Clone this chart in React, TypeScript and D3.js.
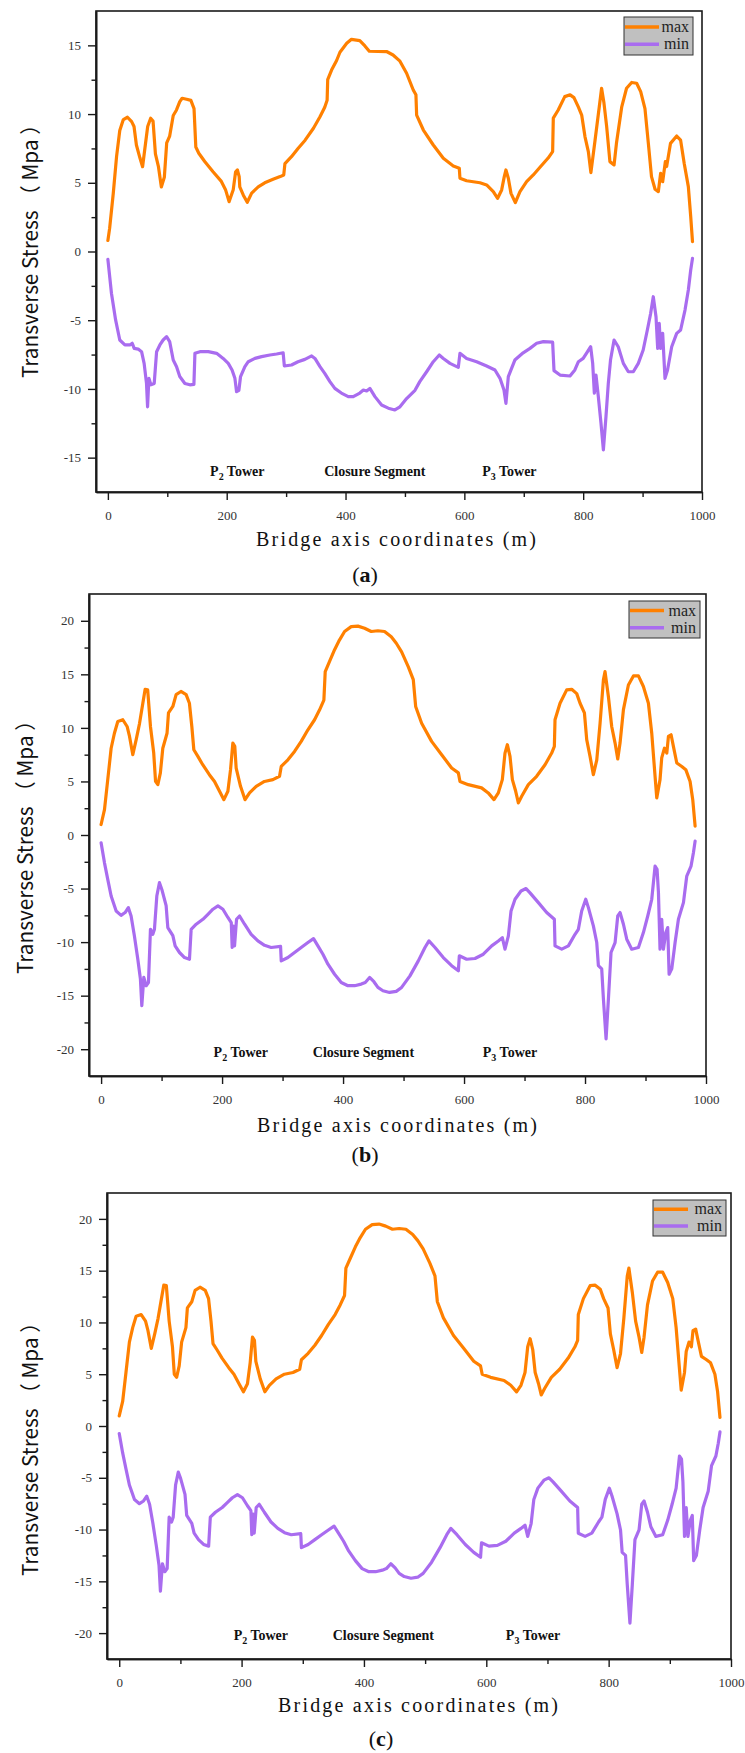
import React, { useEffect, useRef } from 'react';
import * as d3 from 'd3';

type Pt = [number, number];

// panel (a): max / min transverse stress along the bridge axis
const maxA: Pt[] = [
  [0, 0.8], [3, 1.7], [9, 4.2], [14.6, 6.9], [20, 8.8], [26, 9.6], [33, 9.77], [40, 9.45], [44, 9.1],
  [48, 7.75], [54, 6.8], [58.4, 6.17], [62, 7.4], [67, 9.1], [72, 9.7], [76, 9.5], [80, 7.1], [85, 6.2],
  [90, 4.7], [95, 5.4], [99, 7.9], [104, 8.4], [110, 9.9], [115.5, 10.3], [121, 10.9], [125, 11.15],
  [132.5, 11.08], [139.7, 11.0], [145, 10.4], [148, 7.6], [153, 7.15], [163, 6.55], [177, 5.8], [191, 5.1],
  [198, 4.5], [204, 3.63], [211, 4.5], [215, 5.8], [218, 5.93], [221, 5.45], [222, 4.7], [228, 4.1],
  [234.6, 3.58], [242, 4.25], [253, 4.7], [264, 5.0], [278, 5.25], [290, 5.45], [296, 5.57], [298, 6.4],
  [309, 6.9], [320, 7.5], [332, 8.1], [346, 8.97], [357, 9.8], [365, 10.5], [369, 11.0], [370, 12.5],
  [376.5, 13.2], [385, 13.9], [390.6, 14.5], [402, 15.15], [410, 15.44], [424, 15.35], [432.6, 14.96],
  [440, 14.57], [469, 14.55], [480, 14.3], [491.6, 13.85], [502.8, 12.97], [514, 11.75], [518.5, 11.4],
  [519.7, 9.93], [531, 8.84], [547.7, 7.75], [564.6, 6.78], [581.4, 6.22], [591.5, 6.05], [592.6, 5.33],
  [603.8, 5.15], [626.3, 5.0], [637.5, 4.84], [648.7, 4.36], [656, 3.87], [662.8, 4.48], [667.2, 5.45],
  [670, 5.93], [674, 5.33], [678.5, 4.23], [685.8, 3.56], [693.6, 4.36], [704.8, 5.08], [716, 5.57],
  [727.3, 6.13], [741, 6.8], [748.6, 7.27], [749.7, 9.7], [758, 10.3], [769, 11.27], [778, 11.4],
  [784.5, 11.2], [792, 10.5], [797.5, 9.93], [803, 8.36], [808.7, 7.27], [813, 5.74], [820, 8.1],
  [827, 10.5], [831, 11.88], [835, 10.8], [839.5, 9.1], [845, 6.54], [852, 6.3], [856, 7.87],
  [864.8, 10.5], [873, 11.88], [881.6, 12.3], [890, 12.24], [896.8, 11.63], [904, 10.4], [909.7, 7.87],
  [915, 5.45], [921, 4.53], [926.5, 4.36], [930.4, 5.69], [933.8, 5.08], [938.3, 6.54], [940.5, 6.18],
  [947, 7.87], [957.4, 8.4], [964, 8.1], [970, 6.42], [977, 4.72], [981, 2.54], [984, 0.72],
];

const minA: Pt[] = [
  [0, -0.57], [6, -3.04], [13, -4.98], [20, -6.44], [28.6, -6.8], [37, -6.8], [41, -6.68], [44.3, -7.05],
  [51, -7.1], [56.7, -7.29], [61, -8.14], [65, -9.6], [66.8, -11.3], [69, -9.23], [72.4, -9.7], [78, -9.6],
  [82, -7.29], [87.5, -6.8], [93, -6.44], [98.8, -6.2], [104, -6.56], [110, -7.9], [115.6, -8.38],
  [121, -9.1], [129.6, -9.6], [138, -9.7], [144.8, -9.67], [146.5, -7.41], [155, -7.29], [169, -7.29],
  [183, -7.41], [194, -7.78], [202.6, -8.14], [209, -8.62], [213.8, -9.23], [216.6, -10.2], [220.5, -10.1],
  [223.3, -9.1], [230.6, -8.38], [236.3, -8.02], [247.5, -7.78], [258.7, -7.65], [272.7, -7.53],
  [284, -7.46], [295, -7.37], [297, -8.33], [309, -8.26], [320, -8.02], [331.6, -7.85], [343, -7.6],
  [348.5, -7.78], [357, -8.38], [365, -8.87], [373.7, -9.47], [382, -9.96], [393, -10.3], [404.6, -10.56],
  [413, -10.56], [424, -10.3], [430, -10.08], [435.5, -10.15], [441, -9.96], [449.5, -10.56],
  [460.7, -11.17], [472, -11.4], [483, -11.53], [491.6, -11.3], [502.8, -10.7], [516.9, -10.1],
  [525, -9.47], [536.5, -8.75], [547.7, -8.02], [557.8, -7.53], [564.6, -7.78], [575.8, -8.14],
  [589.8, -8.43], [592.6, -7.41], [603.8, -7.78], [620.7, -8.02], [637.5, -8.33], [651.5, -8.62],
  [660, -9.23], [666.7, -10.08], [670, -11.05], [674, -9.1], [685, -7.9], [699, -7.37], [710.5, -7.05],
  [721.7, -6.68], [733, -6.56], [748.6, -6.6], [750.9, -8.67], [761, -8.99], [777.8, -9.06], [786, -8.62],
  [792, -8.02], [800, -7.78], [806, -7.37], [812.6, -6.93], [816, -8.14], [818.8, -10.3], [821.6, -8.99],
  [825.5, -10.56], [830, -12.5], [834, -14.44], [838.4, -12.0], [842.3, -9.6], [846, -7.9], [852, -6.44],
  [859, -6.93], [867.6, -8.14], [876, -8.75], [884.4, -8.75], [892.8, -8.14], [901, -7.17], [908, -5.71],
  [913.6, -4.5], [918, -3.29], [922.6, -4.75], [925.4, -7.05], [928, -5.23], [930.4, -7.05], [933.8, -5.96],
  [937.7, -9.23], [942, -8.62], [949, -6.93], [957.4, -5.96], [964, -5.71], [971.4, -4.26], [977, -2.8],
  [981, -1.35], [984, -0.5],
];

// panels (b) and (c)
const maxB: Pt[] = [
  [0, 0.98], [5.6, 2.37], [11, 5.17], [16.6, 8.1], [22, 9.5], [27.6, 10.6], [35.9, 10.76], [43, 10.13],
  [47, 9.2], [52.4, 7.5], [58, 8.9], [63.5, 10.4], [69, 12.3], [72.8, 13.6], [77, 13.55], [81.6, 10.13],
  [87, 7.65], [90, 5.0], [93.8, 4.7], [98, 5.8], [102, 8.1], [109, 9.5], [111.4, 11.4], [118.6, 12.0],
  [124, 13.1], [132, 13.4], [140.6, 13.1], [146, 12.3], [150, 10.13], [153.3, 7.96], [160, 7.34],
  [168, 6.56], [179, 5.63], [187.5, 5.0], [195.8, 4.08], [203, 3.3], [209.6, 4.08], [214, 6.1],
  [217.8, 8.58], [221, 8.27], [223.3, 6.25], [230.5, 4.55], [238, 3.3], [245.4, 3.93], [256.4, 4.55],
  [270, 5.0], [284, 5.17], [295, 5.48], [297.8, 6.4], [308.8, 7.02], [319.8, 7.8], [330.8, 8.74],
  [341.9, 9.82], [352.9, 10.76], [361.2, 11.69], [368.3, 12.6], [370.5, 15.25], [377.7, 16.2], [386, 17.3],
  [394, 18.2], [402.5, 19.0], [413.5, 19.45], [424.6, 19.5], [435.6, 19.3], [446.6, 19.0], [457.6, 19.07],
  [468.6, 19.0], [479.7, 18.5], [488, 17.9], [496.8, 17.1], [507.9, 15.7], [516.1, 14.5], [520, 12.0],
  [529.9, 10.44], [546.4, 8.74], [563, 7.5], [579.5, 6.25], [590.6, 5.8], [593.3, 5.0], [607, 4.7],
  [629, 4.4], [640, 3.93], [649.5, 3.3], [656.7, 3.93], [663.3, 5.17], [667.7, 7.65], [671.6, 8.43],
  [676, 7.34], [679.9, 5.17], [685.4, 4.08], [689.8, 3.0], [695.3, 3.62], [706.3, 4.7], [720, 5.48],
  [733.9, 6.56], [744.9, 7.65], [749.3, 8.27], [750.4, 10.76], [758.7, 12.3], [769.7, 13.55], [778, 13.6],
  [786.3, 13.2], [791.8, 12.3], [799, 11.4], [802.8, 8.9], [808.3, 7.34], [813.8, 5.63], [819.4, 7.0],
  [824.9, 10.45], [830.4, 14.48], [833.1, 15.25], [838.7, 12.9], [844.1, 10.13], [849.7, 8.58],
  [854.1, 7.1], [857.9, 8.58], [863.5, 11.7], [871.7, 14.0], [880, 14.85], [888.3, 14.85], [896.5, 13.86],
  [904.8, 12.3], [910.3, 9.5], [915.8, 5.48], [918.6, 3.46], [924, 5.17], [926.8, 7.2], [931.3, 8.1],
  [935.2, 7.65], [937.9, 9.2], [942.3, 9.36], [946.1, 8.27], [951.7, 6.72], [960, 6.4], [966.6, 6.1],
  [973.7, 5.0], [978.1, 3.3], [982, 0.82],
];

const minB: Pt[] = [
  [0, -0.73], [5.6, -2.6], [11, -4.14], [16.6, -5.7], [24.9, -7.1], [33, -7.5], [39.7, -7.24], [45, -6.78],
  [49.6, -7.56], [55, -9.4], [60.7, -11.6], [65, -13.45], [67.3, -15.94], [70.6, -13.3], [74.5, -14.07],
  [78.3, -13.77], [81.6, -8.8], [85.5, -9.27], [88.2, -8.8], [92.1, -5.7], [96.5, -4.45], [100.4, -5.08],
  [107.5, -6.6], [110.3, -8.64], [118.6, -9.4], [122.4, -10.35], [129.6, -10.97], [137.9, -11.44],
  [146.1, -11.6], [148.9, -8.8], [157.2, -8.33], [168.3, -7.87], [176.6, -7.4], [184.9, -6.93],
  [193.2, -6.62], [201.4, -6.93], [209.6, -7.7], [215.2, -8.18], [216.7, -10.5], [219, -8.5],
  [220.6, -10.35], [223.9, -7.87], [228.9, -7.56], [237.2, -8.33], [248.1, -9.27], [259.2, -9.89],
  [270.2, -10.3], [281.2, -10.5], [296.7, -10.4], [297.8, -11.75], [308.8, -11.44], [319.8, -10.97],
  [330.8, -10.5], [341.9, -10.04], [351.2, -9.67], [358.4, -10.35], [366.7, -11.13], [375, -12.06],
  [386, -13.0], [397, -13.77], [408, -14.07], [419, -14.07], [430.1, -13.92], [436.7, -13.77],
  [443.9, -13.3], [451, -13.7], [457.6, -14.23], [465.9, -14.54], [476.9, -14.7], [487.9, -14.6],
  [496.8, -14.23], [510.6, -13.15], [524.4, -11.75], [535.4, -10.5], [542, -9.89], [552, -10.5],
  [565.7, -11.44], [579.5, -12.2], [590.6, -12.68], [592.2, -11.28], [604.3, -11.6], [618.1, -11.53],
  [631.9, -11.13], [645.7, -10.35], [656.7, -9.89], [663.3, -9.58], [667.7, -10.66], [673.3, -9.42],
  [677.7, -7.09], [684.3, -6.0], [694.2, -5.23], [702.5, -5.0], [709.1, -5.4], [722.9, -6.31],
  [736.6, -7.24], [749.3, -7.87], [750.4, -10.35], [761.5, -10.66], [772.5, -10.35], [783.5, -9.27],
  [789, -8.8], [794.5, -7.09], [801.2, -6.0], [805.6, -6.78], [813.8, -8.49], [819.4, -10.04],
  [822.1, -12.2], [827.6, -12.5], [830.4, -15.3], [834.8, -19.03], [838.7, -15.3], [843, -10.97],
  [849.7, -10.04], [854.1, -7.56], [857.9, -7.24], [863.5, -8.33], [869, -9.73], [877.2, -10.66],
  [888.3, -10.5], [896.5, -9.11], [903.7, -7.56], [910.3, -6.0], [915.8, -2.9], [919.1, -3.2],
  [921.4, -5.39], [924, -10.66], [926.8, -7.87], [929.6, -10.66], [933.5, -9.11], [936.7, -8.64],
  [939, -13.0], [943.4, -12.5], [948.9, -10.04], [954.4, -7.87], [962.7, -6.31], [968.2, -3.83],
  [975.3, -2.9], [979.2, -1.66], [982, -0.57],
];

const seriesNames = ['max', 'min'];
const seriesColors = ['#ff8000', '#a96cef'];
const xMajorTicks = [0, 200, 400, 600, 800, 1000];
const xMinorTicks = [100, 300, 500, 700, 900];
const notePrefixes = ['P', '', 'P'];
const noteSubs = ['2', '', '3'];
const noteTexts = [' Tower', 'Closure Segment', ' Tower'];

const panels = [
  { letter: 'a', max: maxA, min: minA, yMax: 17.5, box: [96, 11, 702, 492], legend: [624, 17, 69, 38],
    notes: [172, 364, 630], noteY: -16.3, yTitle: [29, 246], xTitle: [396, 546], label: [365, 582] },
  { letter: 'b', max: maxB, min: minB, yMax: 22.5, box: [89, 594, 706, 1076], legend: [629, 601, 71, 37],
    notes: [186, 350, 631], noteY: -20.7, yTitle: [24, 842], xTitle: [397, 1132], label: [365, 1162] },
  { letter: 'c', max: maxB, min: minB, yMax: 22.5, box: [107, 1193, 731, 1659], legend: [653, 1200, 73, 36],
    notes: [187, 349, 632], noteY: -20.7, yTitle: [29, 1444], xTitle: [418, 1712], label: [381, 1746] },
];

const tickFont = 'Liberation Serif';
const fmt = (v: d3.NumberValue) => String(v);

const App = () => {
  const ref = useRef<SVGSVGElement>(null);

  useEffect(() => {
    const svg = d3.select(ref.current);
    svg.selectAll('*').remove();

    panels.forEach(p => {
      const [x0, y0, x1, y1] = p.box;
      const x = d3.scaleLinear().domain([-20, 1000]).range([x0, x1]);
      const y = d3.scaleLinear().domain([-p.yMax, p.yMax]).range([y1, y0]);
      const g = svg.append('g');

      // curves
      const line = d3.line<Pt>().x(d => x(d[0])).y(d => y(d[1]));
      [p.max, p.min].forEach((data, i) => {
        g.append('path')
          .attr('d', line(data))
          .attr('fill', 'none')
          .attr('stroke', seriesColors[i])
          .attr('stroke-width', 3.2)
          .attr('stroke-linejoin', 'round')
          .attr('stroke-linecap', 'round');
      });

      // frame
      g.append('rect')
        .attr('x', x0).attr('y', y0)
        .attr('width', x1 - x0).attr('height', y1 - y0)
        .attr('fill', 'none')
        .attr('stroke', '#1a1a1a')
        .attr('stroke-width', 1.6);

      // x axis
      const xa = g.append('g').attr('transform', `translate(0,${y1})`);
      xa.call(d3.axisBottom(x).tickValues(xMajorTicks).tickSize(8).tickSizeOuter(0).tickPadding(11).tickFormat(fmt));
      xa.append('g').call(d3.axisBottom(x).tickValues(xMinorTicks).tickSize(5).tickSizeOuter(0).tickFormat(() => ''));
      // y axis
      const yMajor = d3.range(-20, p.yMax + 0.01, 5).filter(v => v >= -p.yMax);
      const yMinor = d3.range(-p.yMax, p.yMax + 0.01, 2.5).filter(v => v % 5 !== 0 && Math.abs(v) < p.yMax);
      const ya = g.append('g').attr('transform', `translate(${x0},0)`);
      ya.call(d3.axisLeft(y).tickValues(yMajor).tickSize(8).tickSizeOuter(0).tickPadding(7).tickFormat(fmt));
      ya.append('g').call(d3.axisLeft(y).tickValues(yMinor).tickSize(4.5).tickSizeOuter(0).tickFormat(() => ''));

      [xa, ya].forEach(a => {
        a.selectAll('path.domain').attr('stroke', '#1a1a1a').attr('stroke-width', 1.6);
        a.selectAll('line').attr('stroke', '#1a1a1a').attr('stroke-width', 1.4);
        a.selectAll('text')
          .attr('fill', '#333')
          .style('font-family', tickFont)
          .style('font-size', '13px');
      });

      // annotations
      p.notes.forEach((nx, i) => {
        const t = g.append('text')
          .attr('x', x(nx)).attr('y', y(p.noteY))
          .attr('fill', '#111')
          .style('font-family', tickFont)
          .style('font-weight', 'bold')
          .style('font-size', '14px');
        if (notePrefixes[i]) {
          t.append('tspan').text(notePrefixes[i]);
          t.append('tspan').attr('dy', 4).style('font-size', '10px').text(noteSubs[i]);
          t.append('tspan').attr('dy', -4).text(noteTexts[i]);
        } else {
          t.text(noteTexts[i]);
        }
      });

      // legend
      const [lx, ly, lw, lh] = p.legend;
      const lg = g.append('g');
      lg.append('rect')
        .attr('x', lx).attr('y', ly).attr('width', lw).attr('height', lh)
        .attr('fill', '#c0c0c0').attr('stroke', '#333').attr('stroke-width', 1);
      seriesNames.forEach((name, i) => {
        const cy = ly + lh * (i === 0 ? 0.26 : 0.72);
        lg.append('line')
          .attr('x1', lx + 1).attr('x2', lx + 35).attr('y1', cy).attr('y2', cy)
          .attr('stroke', seriesColors[i]).attr('stroke-width', 3.5);
        lg.append('text')
          .attr('x', lx + lw - 4).attr('y', cy + 5)
          .attr('text-anchor', 'end')
          .attr('fill', '#222')
          .style('font-family', tickFont)
          .style('font-size', '16px')
          .text(name);
      });

      // axis titles
      g.append('text')
        .attr('transform', `translate(${p.yTitle[0]},${p.yTitle[1]}) rotate(-90)`)
        .attr('text-anchor', 'middle')
        .attr('dominant-baseline', 'central')
        .attr('textLength', 264)
        .attr('lengthAdjust', 'spacingAndGlyphs')
        .attr('fill', '#111')
        .style('font-family', '"Noto Sans CJK SC", "Noto Sans", sans-serif')
        .style('font-size', '21px')
        .text('Transverse Stress （ Mpa ）');

      g.append('text')
        .attr('x', p.xTitle[0]).attr('y', p.xTitle[1])
        .attr('text-anchor', 'middle')
        .attr('textLength', 280)
        .attr('lengthAdjust', 'spacing')
        .attr('fill', '#111')
        .style('font-family', tickFont)
        .style('font-size', '20px')
        .text('Bridge axis coordinates (m)');

      // panel letter
      const lt = g.append('text')
        .attr('x', p.label[0]).attr('y', p.label[1])
        .attr('text-anchor', 'middle')
        .attr('fill', '#111')
        .style('font-family', tickFont)
        .style('font-size', '22px');
      lt.append('tspan').text('(');
      lt.append('tspan').style('font-weight', 'bold').text(p.letter);
      lt.append('tspan').text(')');
    });
  }, []);

  return (
    <svg ref={ref} width={745} height={1753}
      style={{ position: 'absolute', left: 0, top: 0, display: 'block', background: '#fff' }} />
  );
};

export default App;
